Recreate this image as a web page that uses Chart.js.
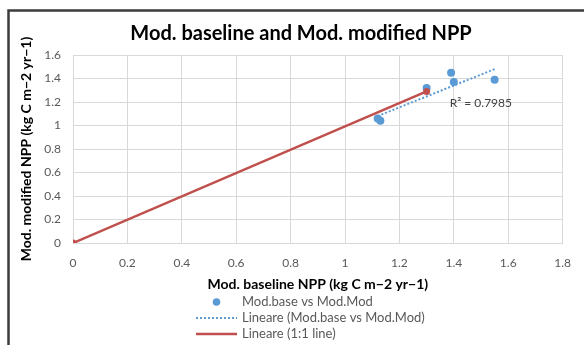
<!DOCTYPE html>
<html>
<head>
<meta charset="utf-8">
<script src="https://cdn.jsdelivr.net/npm/chart.js@4"></script>
<style>
  html, body { margin: 0; padding: 0; background: #fff; }
  canvas { display: block; }
</style>
</head>
<body>
<canvas id="nppChart" width="584" height="345"></canvas>
<script>
// valori
const baseNPP = [1.12, 1.13, 1.30, 1.39, 1.40, 1.55];
const modNPP = [1.06, 1.04, 1.32, 1.45, 1.37, 1.39];
const trendX = [1.12, 1.55];
const trendY = [1.08, 1.48];
const oneX = [0, 1.30];
const oneY = [0, 1.29];
const xTicks = [0, 0.2, 0.4, 0.6, 0.8, 1, 1.2, 1.4, 1.6, 1.8];
const yTicks = [0, 0.2, 0.4, 0.6, 0.8, 1, 1.2, 1.4, 1.6];
const chartTitle = 'Mod. baseline and Mod. modified NPP';
const r2Label = 'R² = 0.7985';
const legendLabels = ['Mod.base vs Mod.Mod', 'Lineare (Mod.base vs Mod.Mod)', 'Lineare (1:1 line)'];

const FONT = 'Lato, "Open Sans", sans-serif';
const BLUE = '#5b9bd5';
const RED = '#c0504d';
const GRID = '#d9d9d9';
const TXT = '#595959';

function toPoints(xs, ys) {
    return xs.map((x, i) => ({ x: x, y: ys[i] }));
}

// cornice, titolo, etichetta R² e legenda
const extrasPlugin = {
    id: 'extras',
    afterDraw(chart) {
        const ctx = chart.ctx;
        const sx = chart.scales.x, sy = chart.scales.y;
        ctx.save();

        // cornice
        ctx.strokeStyle = '#3c3c3c';
        ctx.lineWidth = 2.5;
        ctx.beginPath();
        ctx.moveTo(8.5, 345);
        ctx.lineTo(8.5, 10.5);
        ctx.lineTo(584, 10.5);
        ctx.stroke();

        // titolo
        ctx.fillStyle = '#000';
        ctx.font = 'bold 20px ' + FONT;
        ctx.textBaseline = 'middle';
        ctx.textAlign = 'center';
        ctx.fillText(chartTitle, 301, 34);

        // R²
        ctx.fillStyle = '#404040';
        ctx.font = '12px ' + FONT;
        ctx.textAlign = 'left';
        ctx.fillText(r2Label, sx.getPixelForValue(1.385), sy.getPixelForValue(1.19));

        // legenda
        const lx0 = 196, lx1 = 237, tx = 242;
        const rows = [302, 318, 334];
        ctx.fillStyle = BLUE;
        ctx.beginPath();
        ctx.arc((lx0 + lx1) / 2, rows[0], 3.8, 0, Math.PI * 2);
        ctx.fill();

        ctx.strokeStyle = BLUE;
        ctx.lineWidth = 2;
        ctx.setLineDash([2, 2]);
        ctx.beginPath();
        ctx.moveTo(lx0, rows[1]);
        ctx.lineTo(lx1, rows[1]);
        ctx.stroke();

        ctx.setLineDash([]);
        ctx.strokeStyle = RED;
        ctx.lineWidth = 2.5;
        ctx.beginPath();
        ctx.moveTo(lx0, rows[2]);
        ctx.lineTo(lx1, rows[2]);
        ctx.stroke();

        ctx.fillStyle = TXT;
        ctx.font = '13px ' + FONT;
        legendLabels.forEach((t, i) => ctx.fillText(t, tx, rows[i]));
        ctx.restore();
    }
};

const ctx = document.getElementById('nppChart').getContext('2d');
new Chart(ctx, {
    type: 'scatter',
    data: {
        datasets: [
            {
                label: legendLabels[2],
                type: 'line',
                data: toPoints(oneX, oneY),
                borderColor: RED,
                backgroundColor: RED,
                borderWidth: 2.5,
                pointRadius: 3.5,
                pointBorderWidth: 0,
                showLine: true,
                fill: false,
                order: 0
            },
            {
                label: legendLabels[0],
                data: toPoints(baseNPP, modNPP),
                backgroundColor: BLUE,
                borderColor: BLUE,
                pointRadius: 4,
                pointBorderWidth: 0,
                order: 1
            },
            {
                label: legendLabels[1],
                type: 'line',
                data: toPoints(trendX, trendY),
                borderColor: BLUE,
                borderWidth: 2,
                borderDash: [2, 2],
                pointRadius: 0,
                fill: false,
                order: 2
            }
        ]
    },
    options: {
        responsive: false,
        animation: false,
        devicePixelRatio: 1,
        layout: { padding: { left: 8, right: 14, top: 55, bottom: 50 } },
        plugins: {
            legend: { display: false },
            tooltip: { enabled: false },
            title: { display: false }
        },
        scales: {
            x: {
                type: 'linear',
                min: 0,
                max: 1.8,
                afterBuildTicks: s => { s.ticks = xTicks.map(v => ({ value: v })); },
                afterFit: s => { s.height = 52; },
                grid: { color: GRID, drawTicks: false },
                border: { color: GRID },
                ticks: {
                    color: TXT,
                    padding: 13,
                    font: { family: FONT, size: 12 },
                    callback: v => String(v)
                },
                title: {
                    display: true,
                    text: 'Mod. baseline NPP (kg C m−2 yr−1)',
                    color: '#000',
                    font: { family: FONT, size: 14, weight: 'bold' },
                    padding: { top: 0, bottom: 2 }
                }
            },
            y: {
                type: 'linear',
                min: 0,
                max: 1.6,
                afterBuildTicks: s => { s.ticks = yTicks.map(v => ({ value: v })); },
                afterFit: s => { s.width = 65; },
                grid: { color: GRID, drawTicks: false },
                border: { color: GRID },
                ticks: {
                    color: TXT,
                    padding: 12,
                    font: { family: FONT, size: 12 },
                    callback: v => String(v)
                },
                title: {
                    display: true,
                    text: 'Mod. modified NPP (kg C m−2 yr−1)',
                    color: '#000',
                    font: { family: FONT, size: 14, weight: 'bold' },
                    padding: { top: 10, bottom: 0 }
                }
            }
        }
    },
    plugins: [extrasPlugin]
});
</script>
</body>
</html>
